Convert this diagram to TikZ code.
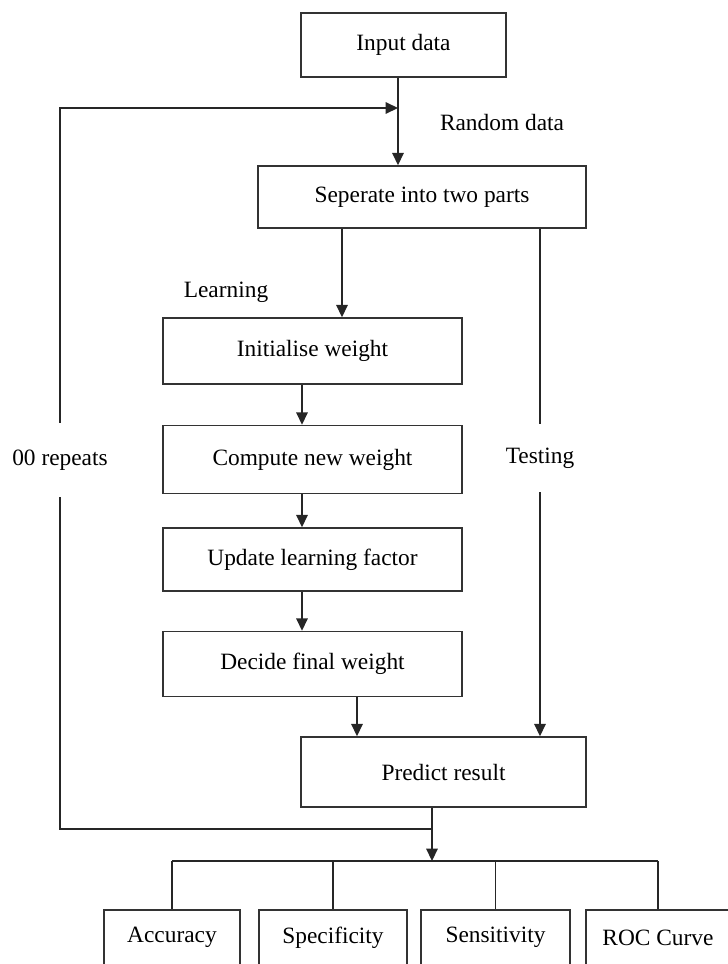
\documentclass[tikz,border=0pt]{standalone}
\usepackage{fontspec}
\setmainfont{Liberation Serif}
\usetikzlibrary{arrows.meta,positioning,calc}

\begin{document}
\begin{tikzpicture}[
    node distance=0.75cm,
    box/.style={rectangle, draw=black!80, line width=0.85pt, minimum height=1.3cm, font=\fontsize{13.3}{16}\selectfont, text centered, inner sep=0pt},
    stepbox/.style={box, minimum width=5.98cm},
    metric/.style={box, minimum height=1.12cm, anchor=north},
    lbl/.style={font=\fontsize{13.3}{16}\selectfont, inner sep=0pt},
    gap/.style={lbl, fill=white, minimum height=1.4cm},
    arrow/.style={-{Triangle[width=6.5pt,length=7pt]}, line width=0.85pt, draw=black!85},
    wire/.style={line width=0.85pt, draw=black!85}
]
\useasboundingbox (0,0) rectangle (14.56,-19.28);

% Input and split
\node[box, minimum width=4.1cm, minimum height=1.28cm] (input) at (8.07,-0.9) {Input data};
\node[box, minimum width=6.56cm, minimum height=1.24cm] (split) at (8.44,-3.94) {Seperate into two parts};
\node[lbl] (random) at (10.04,-2.46) {Random data};

% Learning chain
\node[lbl] (learn) at (4.52,-5.84) {Learning};
\node[stepbox, minimum height=1.32cm] (init) at (6.25,-7.02) {Initialise weight};
\node[stepbox, below=0.8cm of init, minimum height=1.36cm] (comp) {Compute new weight};
\node[stepbox, below=0.66cm of comp, minimum height=1.26cm] (upd) {Update learning factor};
\node[stepbox, below=0.78cm of upd] (dec) {Decide final weight};

% Predict
\node[box, minimum width=5.7cm, minimum height=1.4cm] (predict) at (8.87,-15.44) {Predict result};

% Metrics
\node[metric, minimum width=2.72cm] (acc) at (3.44,-18.18) {Accuracy};
\node[metric, minimum width=2.96cm] (spec) at (6.66,-18.18) {Specificity};
\node[metric, minimum width=2.98cm] (sens) at (9.91,-18.18) {Sensitivity};
\node[metric, minimum width=2.88cm] (roc) at (13.16,-18.18) {ROC Curve};

% Helper coordinates
\coordinate (ax) at (7.96,0);
\coordinate (fb) at (7.96,-2.16);
\coordinate (lx) at (6.84,0);
\coordinate (cx) at (6.04,0);
\coordinate (dx) at (7.14,0);
\coordinate (tx) at (10.8,0);
\coordinate (px) at (8.64,0);
\coordinate (bus) at (8.64,-17.22);
\coordinate (loopR) at (8.64,-16.58);
\coordinate (loopL) at (1.2,-16.58);
\coordinate (loopT) at (1.2,-2.16);

% Arrows
\draw[arrow] (input.south -| ax) -- (split.north -| ax);
\draw[arrow] (split.south -| lx) -- (init.north -| lx);
\foreach \source/\dest in {init/comp, comp/upd, upd/dec} {
    \draw[arrow] (\source.south -| cx) -- (\dest.north -| cx);
}
\draw[arrow] (dec.south -| dx) -- (predict.north -| dx);
\draw[arrow] (split.south -| tx) -- (predict.north -| tx);
\node[gap, minimum height=1.36cm] (test) at (10.8,-9.16) {Testing};
\draw[arrow] (predict.south -| px) -- (bus);

% Repeat loop
\draw[arrow] (loopR) -- (loopL) -- (loopT) -- (fb);
\node[gap, minimum height=1.48cm] (repeat) at (1.2,-9.2) {00 repeats};

% Metric bus
\draw[wire] (acc.north |- bus) -- (roc.north |- bus);
\foreach \m in {acc, spec, sens, roc} {
    \draw[wire] (\m.north |- bus) -- (\m.north);
}

\end{tikzpicture}
\end{document}
